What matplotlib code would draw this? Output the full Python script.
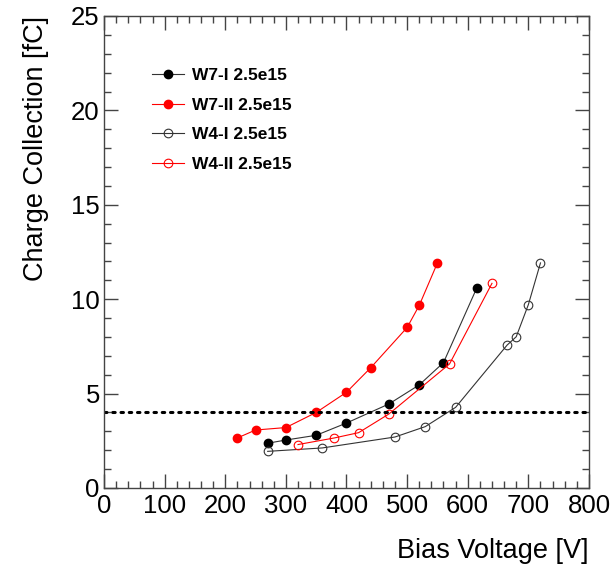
import matplotlib.pyplot as plt
from matplotlib.ticker import MultipleLocator

plt.rcParams['font.family'] = ['Liberation Sans', 'DejaVu Sans']

# charge collection vs bias voltage, fluence 2.5e15
w7_1_volt = [270, 300, 350, 400, 470, 520, 560, 615]
w7_1_charge = [2.37, 2.54, 2.79, 3.44, 4.45, 5.46, 6.64, 10.6]

w7_2_volt = [220, 250, 300, 350, 400, 440, 500, 520, 550]
w7_2_charge = [2.65, 3.07, 3.2, 4.0, 5.07, 6.37, 8.5, 9.67, 11.92]

w4_1_volt = [270, 360, 480, 530, 580, 665, 680, 700, 720]
w4_1_charge = [1.94, 2.12, 2.7, 3.25, 4.27, 7.57, 8.01, 9.71, 11.92]

w4_2_volt = [320, 380, 420, 470, 570, 640]
w4_2_charge = [2.3, 2.65, 2.93, 3.92, 6.57, 10.84]

labels = ['W7-I 2.5e15', 'W7-II 2.5e15', 'W4-I 2.5e15', 'W4-II 2.5e15']
threshold = 4.0

fig = plt.figure(figsize=(6.13, 5.69), dpi=100)
ax = fig.add_axes([0.1697, 0.1424, 0.7911, 0.8295])

ax.plot(w7_1_volt, w7_1_charge, '-o', color='#333333', mfc='black',
        mec='black', lw=0.8, ms=6, label=labels[0])
ax.plot(w7_2_volt, w7_2_charge, '-o', color='red', lw=0.8, ms=6,
        label=labels[1])
ax.plot(w4_1_volt, w4_1_charge, '-o', color='#333333', lw=0.8, ms=6.2,
        mfc='none', mew=0.8, label=labels[2])
ax.plot(w4_2_volt, w4_2_charge, '-o', color='red', lw=0.8, ms=6.2,
        mfc='none', mew=0.8, label=labels[3])

# 4 fC threshold
ax.axhline(threshold, color='black', lw=2.2, linestyle=(0, (0.8, 1.9)),
           dash_capstyle='round')

ax.set_xlim(0, 800)
ax.set_ylim(0, 25)
ax.xaxis.set_major_locator(MultipleLocator(100))
ax.xaxis.set_minor_locator(MultipleLocator(20))
ax.yaxis.set_major_locator(MultipleLocator(5))
ax.yaxis.set_minor_locator(MultipleLocator(1))

ax.tick_params(which='both', direction='in', top=True, right=True,
               colors='#444444', labelcolor='black', labelsize=18.5)
ax.tick_params(which='major', length=10, width=1)
ax.tick_params(which='minor', length=5, width=1)
ax.tick_params(axis='x', pad=4)
ax.tick_params(axis='y', pad=3)
for s in ax.spines.values():
    s.set_color('#444444')
    s.set_linewidth(1)

ax.set_xlabel('Bias Voltage [V]', loc='right', fontsize=19.5, labelpad=15)
ax.set_ylabel('Charge Collection [fC]', loc='top', fontsize=19.5,
              labelpad=16)

ax.legend(loc='upper left', bbox_to_anchor=(0.085, 0.905), frameon=False,
          handlelength=1.85, handletextpad=0.45, labelspacing=0.84,
          borderaxespad=0, prop={'size': 12.5, 'weight': 'bold'})

fig.savefig('out.png', dpi=100)
